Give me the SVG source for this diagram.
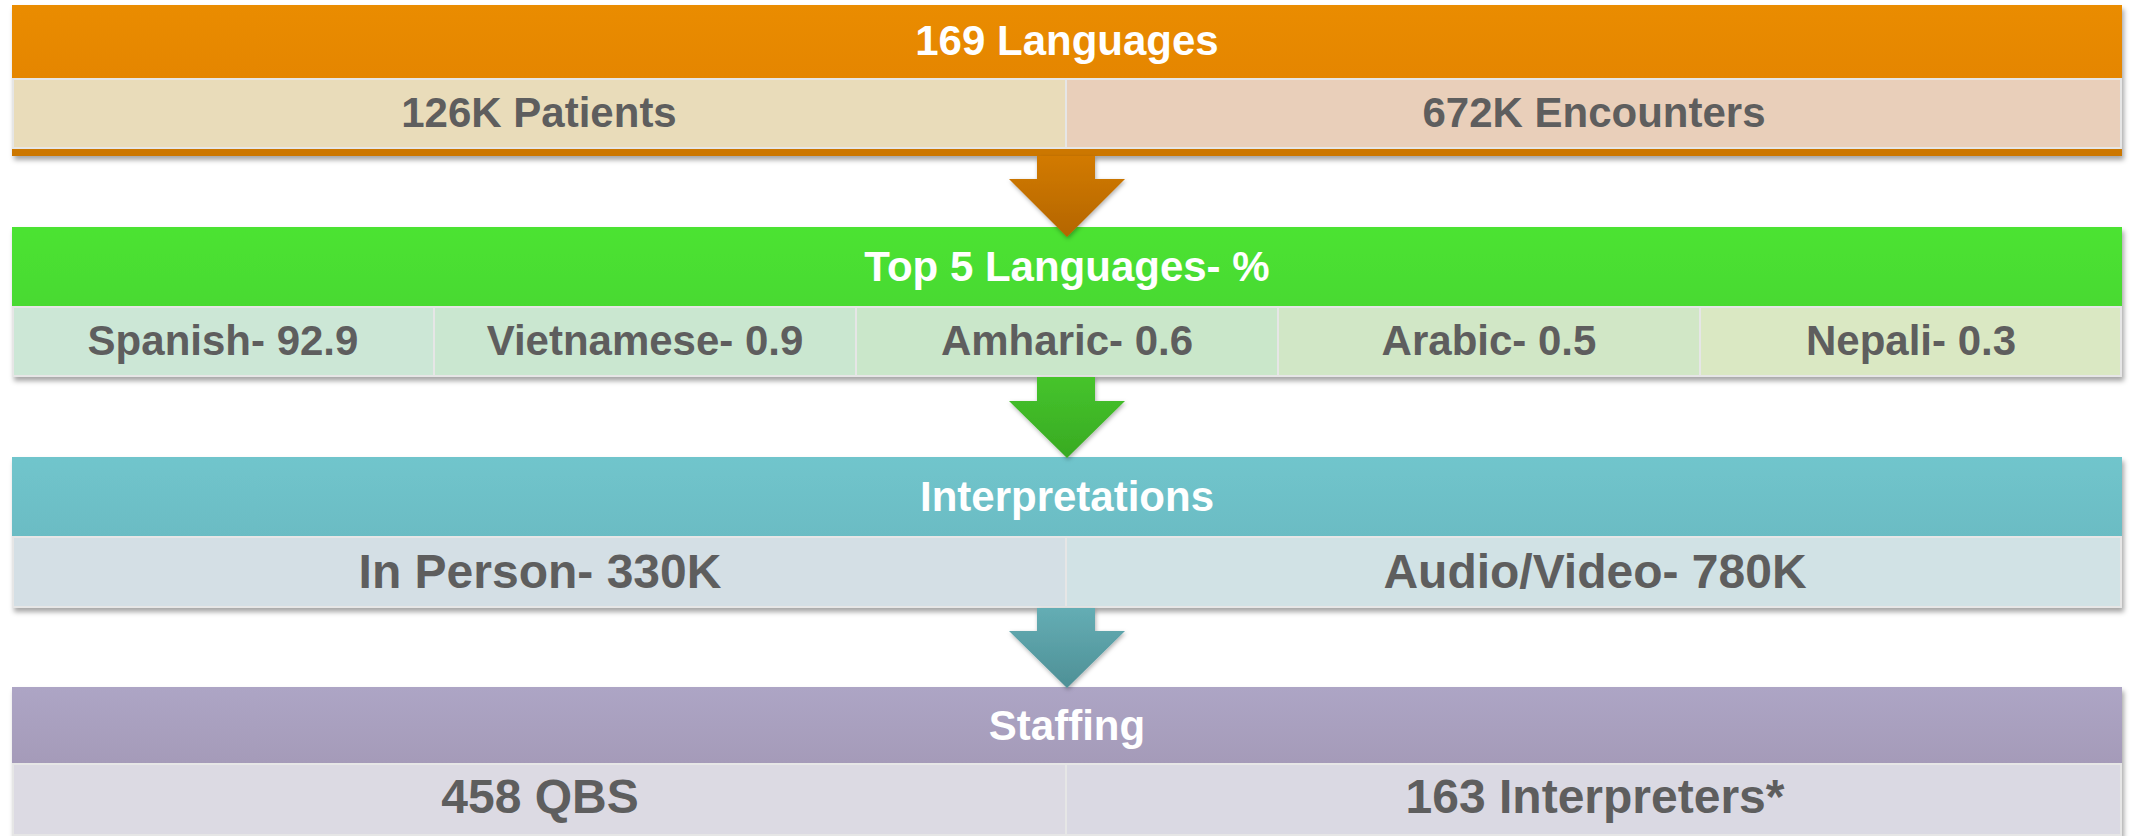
<svg xmlns="http://www.w3.org/2000/svg" width="2131" height="836" viewBox="0 0 2131 836">
<defs>
<linearGradient id="gOr" x1="0" y1="0" x2="0" y2="1"><stop offset="0" stop-color="#EA8C00"/><stop offset="1" stop-color="#DF7F00"/></linearGradient>
<linearGradient id="gGr" x1="0" y1="0" x2="0" y2="1"><stop offset="0" stop-color="#4CE332"/><stop offset="1" stop-color="#46D12E"/></linearGradient>
<linearGradient id="gTe" x1="0" y1="0" x2="0" y2="1"><stop offset="0" stop-color="#70C5CC"/><stop offset="1" stop-color="#67B4BC"/></linearGradient>
<linearGradient id="gPu" x1="0" y1="0" x2="0" y2="1"><stop offset="0" stop-color="#ADA5C5"/><stop offset="1" stop-color="#9D91AD"/></linearGradient>
<linearGradient id="aOr" x1="0" y1="0" x2="0" y2="1"><stop offset="0" stop-color="#D27A00"/><stop offset="1" stop-color="#B46600"/></linearGradient>
<linearGradient id="aGr" x1="0" y1="0" x2="0" y2="1"><stop offset="0" stop-color="#46C42C"/><stop offset="1" stop-color="#38AA22"/></linearGradient>
<linearGradient id="aTe" x1="0" y1="0" x2="0" y2="1"><stop offset="0" stop-color="#64ADB4"/><stop offset="1" stop-color="#4E9096"/></linearGradient>
<filter id="sh" x="-2%" y="-10%" width="104%" height="125%"><feDropShadow dx="2" dy="4" stdDeviation="2.5" flood-color="#000" flood-opacity="0.35"/></filter>
<filter id="ash" x="-20%" y="-20%" width="140%" height="140%"><feDropShadow dx="1" dy="2" stdDeviation="2" flood-color="#000" flood-opacity="0.3"/></filter>
</defs>
<style>
.h{font-family:"Liberation Sans",Arial,sans-serif;font-weight:bold;font-size:42px;fill:#FFFFFF;text-anchor:middle}
.c{font-family:"Liberation Sans",Arial,sans-serif;font-weight:bold;font-size:42px;fill:#5E5E5E;text-anchor:middle}
.c48{font-size:48px}
.cell{stroke:#E6E6E6;stroke-width:2}
</style>
<rect width="2131" height="836" fill="#FFFFFF"/>

<g id="block-languages" filter="url(#sh)">
<rect x="12" y="5" width="2110" height="151" fill="url(#gOr)"/>
<rect x="12" y="149" width="2110" height="7" fill="#CC7700"/>
<rect class="cell" x="13" y="79" width="1053" height="69" fill="#E9DCBA"/>
<rect class="cell" x="1066" y="79" width="1055" height="69" fill="#E9CFBA"/>
</g>
<g id="node-169-languages"><text class="h" x="1067" y="55">169 Languages</text></g>
<g id="node-patients"><text class="c" x="539" y="127">126K Patients</text></g>
<g id="node-encounters"><text class="c" x="1594" y="127">672K Encounters</text></g>

<g id="block-top5" filter="url(#sh)">
<rect x="12" y="227" width="2110" height="150" fill="url(#gGr)"/>
<rect class="cell" x="13" y="307" width="421" height="69" fill="#CCE7D6"/>
<rect class="cell" x="434" y="307" width="422" height="69" fill="#CAE7D0"/>
<rect class="cell" x="856" y="307" width="422" height="69" fill="#CAE7CA"/>
<rect class="cell" x="1278" y="307" width="422" height="69" fill="#D1E7C6"/>
<rect class="cell" x="1700" y="307" width="421" height="69" fill="#DAE8C3"/>
</g>

<g id="block-interpretations" filter="url(#sh)">
<rect x="12" y="457" width="2110" height="151" fill="url(#gTe)"/>
<rect class="cell" x="13" y="537" width="1053" height="70" fill="#D4DFE5"/>
<rect class="cell" x="1066" y="537" width="1055" height="70" fill="#D1E2E5"/>
</g>

<g id="block-staffing" filter="url(#sh)">
<rect x="12" y="687" width="2110" height="149" fill="url(#gPu)"/>
<rect class="cell" x="13" y="764" width="1053" height="71" fill="#DCDAE3"/>
<rect class="cell" x="1066" y="764" width="1055" height="71" fill="#DAD9E3"/>
</g>

<g id="connectors" filter="url(#ash)">
<path d="M1037,156 H1095 V179 H1125 L1067,237 L1009,179 H1037 Z" fill="url(#aOr)"/>
<path d="M1037,377 H1095 V401 H1125 L1067,458 L1009,401 H1037 Z" fill="url(#aGr)"/>
<path d="M1037,608 H1095 V631 H1125 L1067,688 L1009,631 H1037 Z" fill="url(#aTe)"/>
</g>

<g id="node-top5"><text class="h" x="1067" y="281">Top 5 Languages- %</text></g>
<g id="node-spanish"><text class="c" x="223" y="355">Spanish- 92.9</text></g>
<g id="node-vietnamese"><text class="c" x="645" y="355">Vietnamese- 0.9</text></g>
<g id="node-amharic"><text class="c" x="1067" y="355">Amharic- 0.6</text></g>
<g id="node-arabic"><text class="c" x="1489" y="355">Arabic- 0.5</text></g>
<g id="node-nepali"><text class="c" x="1911" y="355">Nepali- 0.3</text></g>

<g id="node-interpretations"><text class="h" x="1067" y="511">Interpretations</text></g>
<g id="node-in-person"><text class="c c48" x="540" y="588">In Person- 330K</text></g>
<g id="node-audio-video"><text class="c c48" x="1595" y="588">Audio/Video- 780K</text></g>

<g id="node-staffing"><text class="h" x="1067" y="740">Staffing</text></g>
<g id="node-qbs"><text class="c c48" x="540" y="813">458 QBS</text></g>
<g id="node-interpreters"><text class="c c48" x="1595" y="813">163 Interpreters*</text></g>
</svg>
